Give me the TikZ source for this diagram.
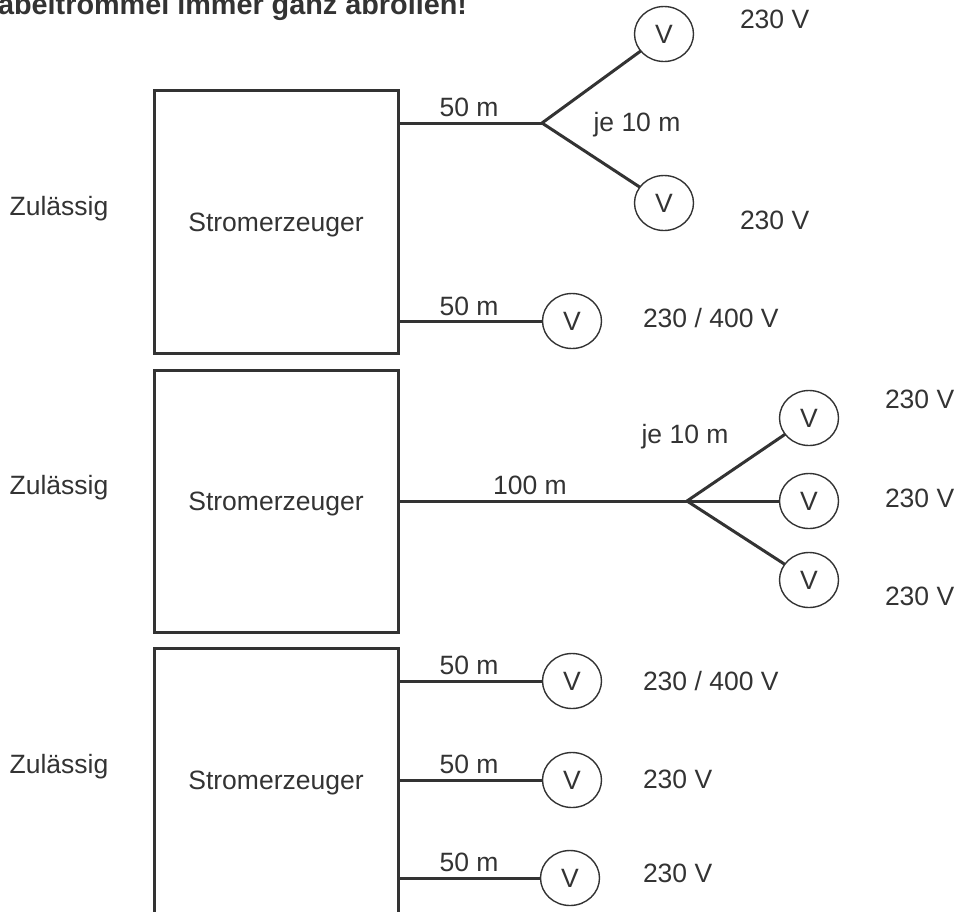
\documentclass[tikz,border=0pt]{standalone}
\usepackage{fontspec}
\setmainfont{Liberation Sans}
\usetikzlibrary{shapes.geometric}
\definecolor{ink}{HTML}{333333}
\begin{document}
\begin{tikzpicture}[x=1pt,y=-1pt,
  every node/.style={font=\fontsize{26.5}{30}\selectfont, text=ink, inner sep=0pt, outer sep=0pt},
  genbox/.style={draw=ink, line width=3pt, minimum width=244pt, anchor=north west},
  cable/.style={draw=ink, line width=3pt},
  load/.style={ellipse, draw=ink, line width=1.4pt, minimum width=59pt, minimum height=55pt},
  lbl/.style={anchor=base},
  volt/.style={anchor=base west}]
\useasboundingbox (0,0) rectangle (958,911);

% title (clipped at the left/top edge)
\node[font=\fontsize{28.8}{32}\selectfont\bfseries, anchor=base east] (title) at (467,14) {Kabeltrommel immer ganz abrollen!};

% generators
\node[genbox, minimum height=263pt] (g1) at (154,90) {};
\node[genbox, minimum height=262pt] (g2) at (154,370) {};
\node[genbox, minimum height=267pt] (g3) at (154,648) {};

\node[lbl] (s1) at (276,231) {Stromerzeuger};
\node[lbl] (s2) at (276,510) {Stromerzeuger};
\node[lbl] (s3) at (276,789) {Stromerzeuger};

\node[lbl] (z1) at (59,215) {Zulässig};
\node[lbl] (z2) at (59,494) {Zulässig};
\node[lbl] (z3) at (59,773) {Zulässig};

% --- case 1 ---
\coordinate (b1) at (542,123);
\node[load] (v1) at (664,34) {V};
\node[load] (v2) at (664,203) {V};
\node[load] (v3) at (572,321) {V};
\draw[cable] (g1.east |- b1) -- (b1);
\draw[cable] (b1) -- (v1);
\draw[cable] (b1) -- (v2);
\draw[cable] (g1.east |- v3) -- (v3);
\node[lbl] (l1) at (469,116.5) {50 m};
\node[lbl] (j1) at (637,131) {je 10 m};
\node[lbl] (l2) at (469,315) {50 m};
\node[volt] (u1) at (740,28) {230 V};
\node[volt] (u2) at (740,229) {230 V};
\node[volt] (u3) at (643,327) {230 / 400 V};

% --- case 2 ---
\coordinate (b2) at (687,501);
\node[load] (w1) at (809,418) {V};
\node[load] (w2) at (809,501) {V};
\node[load] (w3) at (809,580) {V};
\draw[cable] (g2.east |- b2) -- (b2);
\draw[cable] (b2) -- (w1);
\draw[cable] (b2) -- (w2);
\draw[cable] (b2) -- (w3);
\node[lbl] (l3) at (530,494.5) {100 m};
\node[lbl] (j2) at (685,443) {je 10 m};
\node[volt] (u4) at (885,408) {230 V};
\node[volt] (u5) at (885,507) {230 V};
\node[volt] (u6) at (885,605) {230 V};

% --- case 3 ---
\node[load] (x1) at (572,681) {V};
\node[load] (x2) at (572,780) {V};
\node[load] (x3) at (570,878) {V};
\draw[cable] (g3.east |- x1) -- (x1);
\draw[cable] (g3.east |- x2) -- (x2);
\draw[cable] (g3.east |- x3) -- (x3);
\node[lbl] (l4) at (469,674) {50 m};
\node[lbl] (l5) at (469,773) {50 m};
\node[lbl] (l6) at (469,871) {50 m};
\node[volt] (u7) at (643,690) {230 / 400 V};
\node[volt] (u8) at (643,788) {230 V};
\node[volt] (u9) at (643,882) {230 V};
\end{tikzpicture}
\end{document}
